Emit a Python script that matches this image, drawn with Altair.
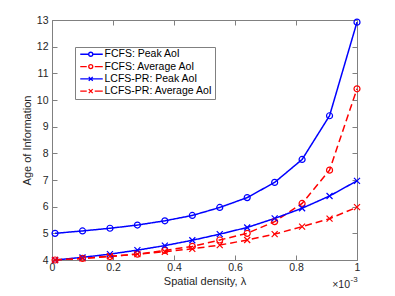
import altair as alt
import pandas as pd

# ---- data ----
x_vals = [0.01, 0.1, 0.19, 0.28, 0.37, 0.46, 0.55, 0.64, 0.73, 0.82, 0.91, 1.0]
fcfs_peak = [5.0, 5.09, 5.19, 5.31, 5.47, 5.67, 5.97, 6.34, 6.91, 7.77, 9.41, 12.92]
fcfs_avg = [4.0, 4.06, 4.13, 4.22, 4.36, 4.51, 4.75, 5.0, 5.44, 6.12, 7.37, 10.42]
lcfs_peak = [4.0, 4.1, 4.22, 4.37, 4.54, 4.74, 4.97, 5.22, 5.56, 5.94, 6.4, 6.97]
lcfs_avg = [4.0, 4.06, 4.14, 4.22, 4.31, 4.42, 4.56, 4.75, 4.97, 5.25, 5.55, 5.98]

series_names = ["FCFS: Peak AoI", "FCFS: Average AoI",
                "LCFS-PR: Peak AoI", "LCFS-PR: Average AoI"]
series_values = [fcfs_peak, fcfs_avg, lcfs_peak, lcfs_avg]
x_ticks = [0, 0.2, 0.4, 0.6, 0.8, 1.0]
y_ticks = [4, 5, 6, 7, 8, 9, 10, 11, 12, 13]
x_title = "Spatial density, λ"
y_title = "Age of Information"
exp_base = ["×10"]
exp_power = ["-3"]

# ---- styles ----
colors = ["#0000ff", "#ff0000", "#0000ff", "#ff0000"]
dashes = [[1, 0], [7, 4], [1, 0], [7, 4]]
FONT = "Liberation Sans"
AX = "#808080"
TXT = "#262626"

rows = []
for name, vals in zip(series_names, series_values):
    for xv, yv in zip(x_vals, vals):
        rows.append({"x": xv, "y": yv, "series": name})
df = pd.DataFrame(rows)

xscale = alt.Scale(domain=[0, 1], nice=False, zero=False)
yscale = alt.Scale(domain=[4, 13], nice=False, zero=False)
cscale = alt.Scale(domain=series_names, range=colors)

# legend symbol paths (line sample + marker), units of sqrt(size)/2 px
SYM = 64
u = (SYM ** 0.5) / 2.0


def seg(a, b):
    return f"M{a / u:.3f},0H{b / u:.3f}"


def circ(cx, r):
    c, rr = cx / u, r / u
    return (f"M{c + rr:.3f},0A{rr:.3f},{rr:.3f} 0 1,1 {c - rr:.3f},0"
            f"A{rr:.3f},{rr:.3f} 0 1,1 {c + rr:.3f},0")


def xmark(cx, h):
    c, hh = cx / u, h / u
    return (f"M{c - hh:.3f},{-hh:.3f}L{c + hh:.3f},{hh:.3f}"
            f"M{c - hh:.3f},{hh:.3f}L{c + hh:.3f},{-hh:.3f}")


L0, L1, MC, R = -2.0, 20.5, 8.5, 2.0
leg_paths = [
    seg(L0, MC - R) + seg(MC + R, L1) + circ(MC, R),
    seg(L0, MC - R - 2.0) + seg(MC + R + 2.0, L1) + circ(MC, R),
    seg(L0, L1) + xmark(MC, R),
    seg(L0, MC - R - 2.0) + seg(MC + R + 2.0, L1) + xmark(MC, R),
]
plot_shapes = ["circle", "circle",
               "M-1,-1L1,1M-1,1L1,-1", "M-1,-1L1,1M-1,1L1,-1"]

legend_props = dict(
    title=None, orient="none", legendX=23, legendY=27, padding=2,
    fillColor="white", strokeColor=AX, labelFont=FONT, labelFontSize=10.5,
    labelColor="black", symbolSize=SYM, symbolStrokeWidth=1.3,
    labelOffset=17, rowPadding=1.3, labelExpr="datum.label + '   '",
)

x_bottom = alt.Axis(values=x_ticks, format="~g", offset=-5, tickSize=5,
                    domain=False, grid=False, labelFlush=False,
                    labelPadding=2, title=x_title, titlePadding=3)
y_left = alt.Axis(values=y_ticks, format="d", offset=-5, tickSize=5,
                  domain=False, grid=False, labelFlush=False,
                  labelPadding=4, title=y_title, titlePadding=4)
x_top = alt.Axis(orient="top", values=x_ticks, labels=False, offset=-5,
                 tickSize=5, domain=False, grid=False, title=None)
y_right = alt.Axis(orient="right", values=y_ticks, labels=False, offset=-5,
                   tickSize=5, domain=False, grid=False, title=None)

lines = alt.Chart(df).mark_line(strokeWidth=1.5).encode(
    x=alt.X("x:Q", scale=xscale, axis=x_bottom),
    y=alt.Y("y:Q", scale=yscale, axis=y_left),
    color=alt.Color("series:N", scale=cscale, legend=None),
    strokeDash=alt.StrokeDash("series:N",
                              scale=alt.Scale(domain=series_names, range=dashes),
                              legend=None),
)

points = alt.Chart(df).mark_point(filled=False, size=36, strokeWidth=1.2,
                                  opacity=1).encode(
    x=alt.X("x:Q", scale=xscale, axis=x_top),
    y=alt.Y("y:Q", scale=yscale, axis=y_right),
    color=alt.Color("series:N", scale=cscale, legend=None),
    shape=alt.Shape("series:N",
                    scale=alt.Scale(domain=series_names, range=plot_shapes),
                    legend=None),
)

legend_layer = alt.Chart(df).transform_filter("false").mark_point(
    filled=False, size=SYM, strokeWidth=1.3, opacity=1).encode(
    color=alt.Color("series:N", scale=cscale,
                    legend=alt.Legend(**legend_props)),
    shape=alt.Shape("series:N",
                    scale=alt.Scale(domain=series_names, range=leg_paths),
                    legend=alt.Legend(**legend_props)),
)

exp1 = alt.Chart(pd.DataFrame({"t": exp_base})).mark_text(
    align="right", baseline="middle", font=FONT, fontSize=10.5, color=TXT
).encode(text="t:N", x=alt.value(298), y=alt.value(265))
exp2 = alt.Chart(pd.DataFrame({"t": exp_power})).mark_text(
    align="left", baseline="middle", font=FONT, fontSize=8, color=TXT
).encode(text="t:N", x=alt.value(298.5), y=alt.value(260))

chart = alt.layer(lines, points, legend_layer, exp1, exp2).resolve_scale(
    color="independent", shape="independent"
).resolve_axis(x="independent", y="independent").properties(
    width=305, height=240,
    autosize=alt.AutoSizeParams(type="none"),
    padding={"left": 44, "top": 12, "right": 30, "bottom": 36},
    background="white",
).configure_view(stroke=AX, strokeWidth=1).configure_axis(
    labelFont=FONT, labelFontSize=10.5, labelColor=TXT, tickColor=AX,
    titleFont=FONT, titleFontSize=11, titleFontWeight="normal",
    titleColor=TXT, tickWidth=1,
)

chart.save("out.html", embed_options={"renderer": "svg", "actions": False})
